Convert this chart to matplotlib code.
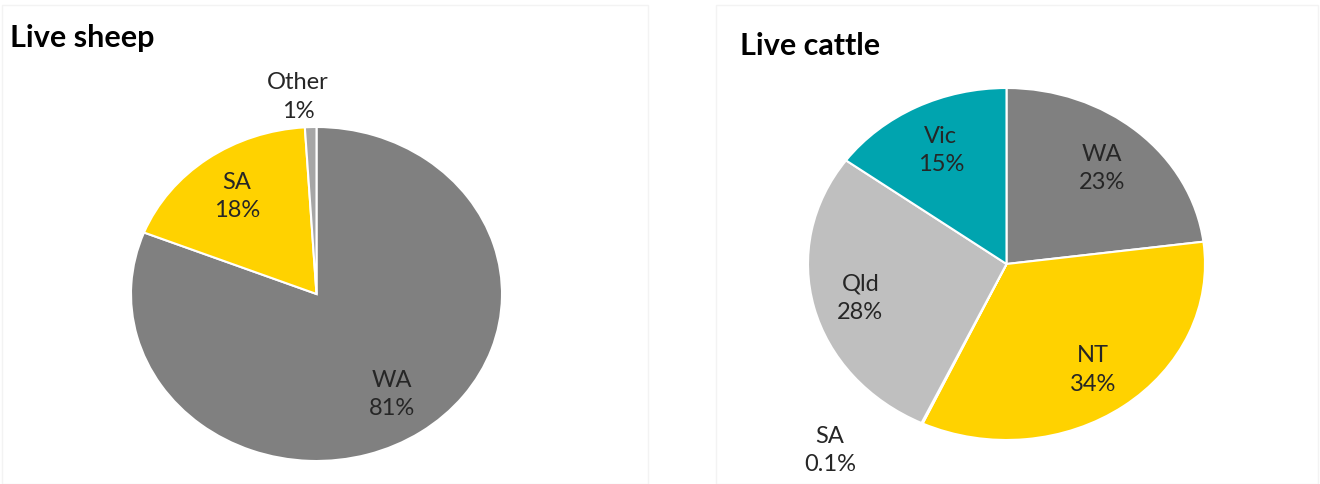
import matplotlib.pyplot as plt
import numpy as np
from matplotlib.patches import Rectangle

plt.rcParams['font.family'] = ['Lato', 'DejaVu Sans']

# Live sheep
sheep_labels = ['WA', 'SA', 'Other']
sheep_values = [81, 18, 1]
sheep_pct = ['81%', '18%', '1%']

# Live cattle
cattle_labels = ['WA', 'NT', 'SA', 'Qld', 'Vic']
cattle_values = [23, 34, 0.1, 28, 15]
cattle_pct = ['23%', '34%', '0.1%', '28%', '15%']

GREY = '#808080'
YELLOW = '#FFD200'
LIGHT = '#BFBFBF'
TEAL = '#00A4AF'

sheep_colors = [GREY, YELLOW, '#A6A6A6']
cattle_colors = [GREY, YELLOW, '#FFFFFF', LIGHT, TEAL]


def draw_pie(ax, values, labels, pct, colors, dist, nudge):
    wedges, _ = ax.pie(values, colors=colors, startangle=90, counterclock=False,
                       radius=1, wedgeprops=dict(edgecolor='white', linewidth=1.5))
    ax.set_aspect('auto')
    ax.set_xlim(-1, 1)
    ax.set_ylim(-1, 1)
    for w, lab, p, d, n in zip(wedges, labels, pct, dist, nudge):
        ang = np.deg2rad((w.theta1 + w.theta2) / 2 + n)
        ax.text(d * np.cos(ang), d * np.sin(ang), f'{lab}\n{p}',
                ha='center', va='center', fontsize=17, color='#262626',
                linespacing=1.45, clip_on=False)


fig = plt.figure(figsize=(13.2, 4.85), dpi=100)
W, H = 1320, 485

# faint panel borders
fig.patches.append(Rectangle((2 / W, 0), 646 / W, 479 / H, transform=fig.transFigure,
                             fill=False, edgecolor='#F3F3F3', linewidth=1))
fig.patches.append(Rectangle((716 / W, 0), 602 / W, 479 / H, transform=fig.transFigure,
                             fill=False, edgecolor='#F3F3F3', linewidth=1))

ax1 = fig.add_axes([131 / W, (H - 462) / H, 371 / W, 334 / H])
draw_pie(ax1, sheep_values, sheep_labels, sheep_pct, sheep_colors,
         [0.72, 0.73, 1.19], [0, 0, 3])

ax2 = fig.add_axes([808 / W, (H - 441) / H, 397 / W, 352 / H])
draw_pie(ax2, cattle_values, cattle_labels, cattle_pct, cattle_colors,
         [0.73, 0.74, 1.38, 0.76, 0.73], [0, 0, -15, 0, 0])

fig.text(10 / W, 1 - 38 / H, 'Live sheep', fontsize=22, fontweight='bold',
         ha='left', va='center', color='black')
fig.text(740 / W, 1 - 46 / H, 'Live cattle', fontsize=22, fontweight='bold',
         ha='left', va='center', color='black')

fig.savefig('out.png', dpi=100)
